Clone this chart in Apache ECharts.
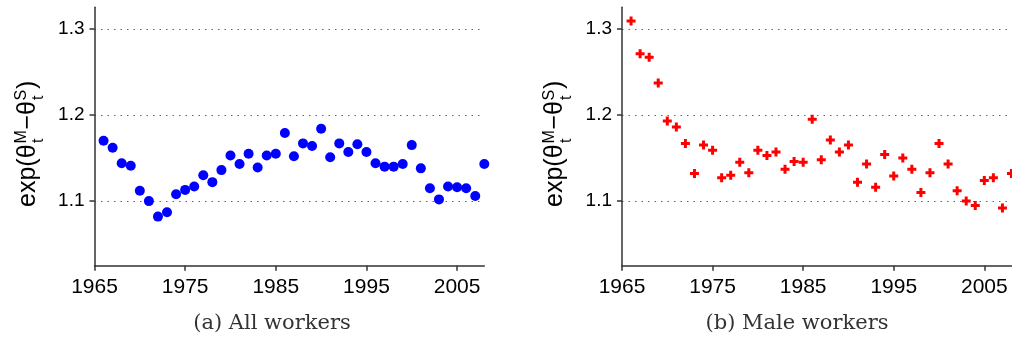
<!DOCTYPE html>
<html><head><meta charset="utf-8">
<script src="https://cdn.jsdelivr.net/npm/echarts@6/dist/echarts.min.js"></script>
<style>html,body{margin:0;padding:0;background:#fff}#c{width:1012px;height:341px}</style>
</head><body><div id="c"></div>
<script>
const years = [1966,1967,1968,1969,1970,1971,1972,1973,1974,1975,1976,1977,1978,1979,1980,1981,1982,1983,1984,1985,1986,1987,1988,1989,1990,1991,1992,1993,1994,1995,1996,1997,1998,1999,2000,2001,2002,2003,2004,2005,2006,2007,2008];
const allWorkers = [1.170,1.162,1.144,1.141,1.112,1.100,1.082,1.087,1.108,1.113,1.117,1.130,1.122,1.136,1.153,1.143,1.155,1.139,1.153,1.155,1.179,1.152,1.167,1.164,1.184,1.151,1.167,1.157,1.166,1.157,1.144,1.140,1.140,1.143,1.165,1.138,1.115,1.102,1.117,1.116,1.115,1.106,1.143];
const maleWorkers = [1.309,1.271,1.267,1.237,1.193,1.186,1.167,1.132,1.165,1.159,1.127,1.130,1.145,1.133,1.159,1.153,1.157,1.137,1.146,1.145,1.195,1.148,1.171,1.157,1.165,1.122,1.143,1.116,1.154,1.129,1.150,1.137,1.110,1.133,1.167,1.143,1.112,1.100,1.095,1.124,1.127,1.092,1.132];
const xTicks = [1965,1975,1985,1995,2005];
const yTicks = [1.1,1.2,1.3];
const captions = ['(a) All workers','(b) Male workers'];

const AX = '#333';
const SANS = "'Liberation Sans', Arial, sans-serif";
function pairs(vals){ return years.map((y,i)=>[y, vals[i]]); }

function xAx(g){
  return {type:'value', gridIndex:g, min:1965, max:2008,
    axisLine:{show:true, onZero:false, lineStyle:{color:AX, width:1.5}},
    axisTick:{show:true, customValues:xTicks, length:5, lineStyle:{color:AX, width:1.5}},
    axisLabel:{customValues:xTicks, formatter:v=>String(v), fontSize:21, color:'#000', fontFamily:SANS, margin:11},
    splitLine:{show:false}};
}
function yAx(g){
  return {type:'value', gridIndex:g, min:1.025, max:1.325,
    axisLine:{show:true, onZero:false, lineStyle:{color:AX, width:1.5}},
    axisTick:{show:true, customValues:yTicks, length:5, lineStyle:{color:AX, width:1.5}},
    axisLabel:{customValues:yTicks, formatter:v=>v.toFixed(1), fontSize:19, color:'#000', fontFamily:SANS, margin:10},
    splitLine:{show:true, lineStyle:{type:[1.5,5], color:'#666', width:1}}};
}
function yTitle(gx){
  const f = s=> s+'px '+SANS;
  return {type:'group', x:gx, y:207, rotation:Math.PI/2, children:[
    {type:'text', x:0, y:0, style:{text:'exp(θ', font:f(25), fill:'#000', verticalAlign:'middle'}},
    {type:'text', x:63.5, y:-6, style:{text:'M', font:f(16), fill:'#000', verticalAlign:'middle'}},
    {type:'text', x:64, y:11, style:{text:'t', font:f(16), fill:'#000', verticalAlign:'middle'}},
    {type:'text', x:77.5, y:0, style:{text:'−θ', font:f(25), fill:'#000', verticalAlign:'middle'}},
    {type:'text', x:106.5, y:-6, style:{text:'S', font:f(16), fill:'#000', verticalAlign:'middle'}},
    {type:'text', x:107, y:11, style:{text:'t', font:f(16), fill:'#000', verticalAlign:'middle'}},
    {type:'text', x:118, y:0, style:{text:')', font:f(25), fill:'#000', verticalAlign:'middle'}}
  ]};
}
const PLUS = 'path://M3,0H6V3H9V6H6V9H3V6H0V3H3Z';
const SERIF = "21px 'DejaVu Serif', serif";
const chart = echarts.init(document.getElementById('c'), null, {renderer:'canvas'});
chart.setOption({
  animation:false,
  backgroundColor:'#fff',
  grid:[
    {left:94.5, top:7.3, width:389.8, height:258.4},
    {left:622, top:7.3, width:389.5, height:258.4}
  ],
  xAxis:[xAx(0), xAx(1)],
  yAxis:[yAx(0), yAx(1)],
  series:[
    {type:'scatter', xAxisIndex:0, yAxisIndex:0, data:pairs(allWorkers), symbol:'circle', symbolSize:10, clip:false, itemStyle:{color:'#0000ff', opacity:1}},
    {type:'scatter', xAxisIndex:1, yAxisIndex:1, data:pairs(maleWorkers), symbol:PLUS, symbolSize:9, clip:false, itemStyle:{color:'#ff0000', opacity:1}}
  ],
  graphic:[
    yTitle(28), yTitle(555.5),
    {type:'text', x:272, y:324, style:{text:captions[0], font:SERIF, fill:'#333', align:'center', verticalAlign:'middle'}},
    {type:'text', x:797, y:324, style:{text:captions[1], font:SERIF, fill:'#333', align:'center', verticalAlign:'middle'}}
  ]
});
</script></body></html>
